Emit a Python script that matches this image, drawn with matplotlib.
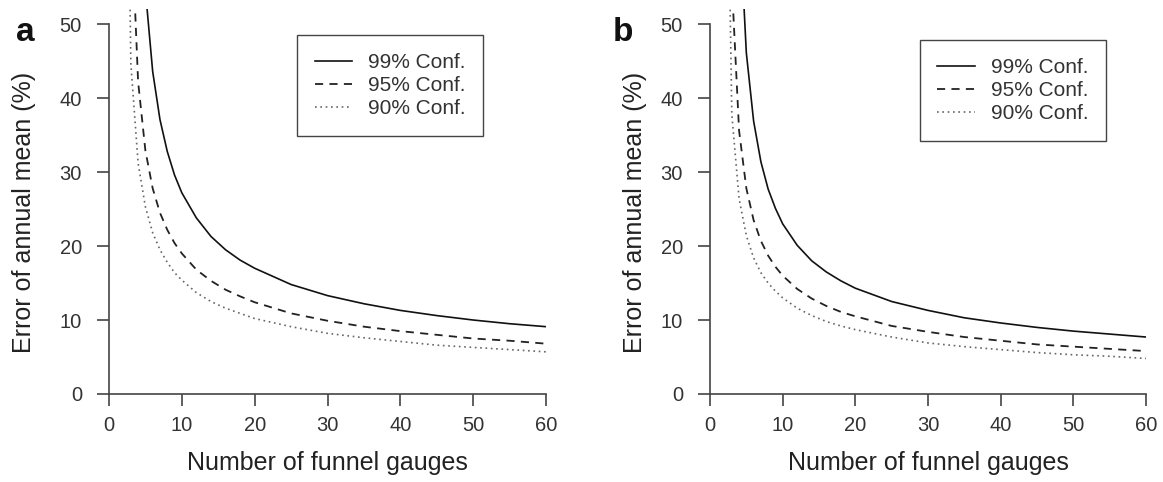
import numpy as np
import matplotlib
matplotlib.use("Agg")
import matplotlib.pyplot as plt

plt.rcParams['font.family'] = ['Liberation Sans', 'DejaVu Sans']

# number of funnel gauges
gauges = [2, 3, 4, 5, 6, 7, 8, 9, 10, 12, 14, 16, 18, 20, 25, 30, 35, 40, 45, 50, 55, 60]

# panel a - error of annual mean (%)
a_99 = [None, None, 77.4, 54.6, 43.6, 37.1, 32.8, 29.6, 27.2, 23.8, 21.3, 19.5, 18.1, 17.0,
        14.8, 13.3, 12.2, 11.3, 10.6, 10.0, 9.5, 9.1]
a_95 = [None, 65.8, 42.2, 32.9, 27.8, 24.5, 22.2, 20.4, 19.0, 16.8, 15.3, 14.1, 13.2, 12.4,
        10.9, 9.9, 9.1, 8.5, 8.0, 7.5, 7.2, 6.8]
a_90 = [118.3, 44.7, 31.2, 25.3, 21.8, 19.5, 17.8, 16.4, 15.4, 13.7, 12.5, 11.6, 10.9, 10.2,
        9.1, 8.2, 7.6, 7.1, 6.6, 6.3, 6.0, 5.7]

# panel b
b_99 = [None, None, 65.4, 46.1, 36.9, 31.4, 27.7, 25.1, 23.0, 20.1, 18.0, 16.5, 15.3, 14.3,
        12.5, 11.3, 10.3, 9.6, 9.0, 8.5, 8.1, 7.7]
b_95 = [None, 55.6, 35.6, 27.8, 23.5, 20.7, 18.7, 17.2, 16.0, 14.2, 12.9, 11.9, 11.1, 10.5,
        9.2, 8.4, 7.7, 7.2, 6.7, 6.4, 6.1, 5.8]
b_90 = [100.0, 37.8, 26.4, 21.4, 18.4, 16.4, 15.0, 13.9, 13.0, 11.6, 10.6, 9.8, 9.2, 8.7,
        7.7, 6.9, 6.4, 6.0, 5.6, 5.3, 5.1, 4.8]

labels = ['99% Conf.', '95% Conf.', '90% Conf.']
xticks = [0, 10, 20, 30, 40, 50, 60]
yticks = [0, 10, 20, 30, 40, 50]

fig = plt.figure(figsize=(11.63, 4.82), dpi=100)

panels = [
    ([0.0937, 0.1826, 0.3758, 0.798], (a_99, a_95, a_90), 'a', 0.0215, (0.856, 0.933), -0.195),
    ([0.6105, 0.1826, 0.3749, 0.798], (b_99, b_95, b_90), 'b', 0.5357, (0.908, 0.92), -0.173),
]

for pos, series, tag, tag_x, leg_anchor, ylab_x in panels:
    ax = fig.add_axes(pos)
    x = np.array(gauges, dtype=float)
    y99, y95, y90 = [np.array(s, dtype=float) for s in series]
    ax.plot(x, y99, color='#111111', lw=1.2, ls='-', label=labels[0])
    ax.plot(x, y95, color='#222222', lw=1.3, ls=(0, (4.5, 3.5)), label=labels[1])
    ax.plot(x, y90, color='#666666', lw=1.2, ls=(0, (1, 2.2)), label=labels[2])

    ax.set_xlim(0, 60)
    ax.set_ylim(0, 52)
    ax.set_xticks(xticks)
    ax.set_yticks(yticks)
    for side in ['top', 'right']:
        ax.spines[side].set_visible(False)
    ax.spines['left'].set_bounds(0, 50)
    ax.spines['bottom'].set_bounds(0, 60)
    for side in ['left', 'bottom']:
        ax.spines[side].set_color('#444444')
        ax.spines[side].set_linewidth(1.2)
    ax.tick_params(axis='both', direction='out', length=8.5, width=1.2, color='#444444',
                   labelsize=14.5, labelcolor='#333333')
    ax.tick_params(axis='y', pad=11)
    ax.tick_params(axis='x', pad=7)

    ax.set_xlabel('Number of funnel gauges', fontsize=18, color='#222222', va='center')
    ax.xaxis.set_label_coords(0.5, -0.179)
    ax.set_ylabel('Error of annual mean (%)', fontsize=18, color='#222222', va='center')
    ax.yaxis.set_label_coords(ylab_x, 0.473)

    leg = ax.legend(loc='upper right', bbox_to_anchor=leg_anchor, borderaxespad=0,
                    fontsize=15, handlelength=1.8, handletextpad=0.75, labelspacing=0.2,
                    borderpad=0.85, fancybox=False, framealpha=1, edgecolor='#444444')
    leg.get_frame().set_linewidth(1.0)
    for t in leg.get_texts():
        t.set_color('#333333')

    fig.text(tag_x, 0.915, tag, fontsize=24, fontweight='bold', ha='center', va='baseline',
             color='#111111')

fig.savefig('out.png', dpi=100)
